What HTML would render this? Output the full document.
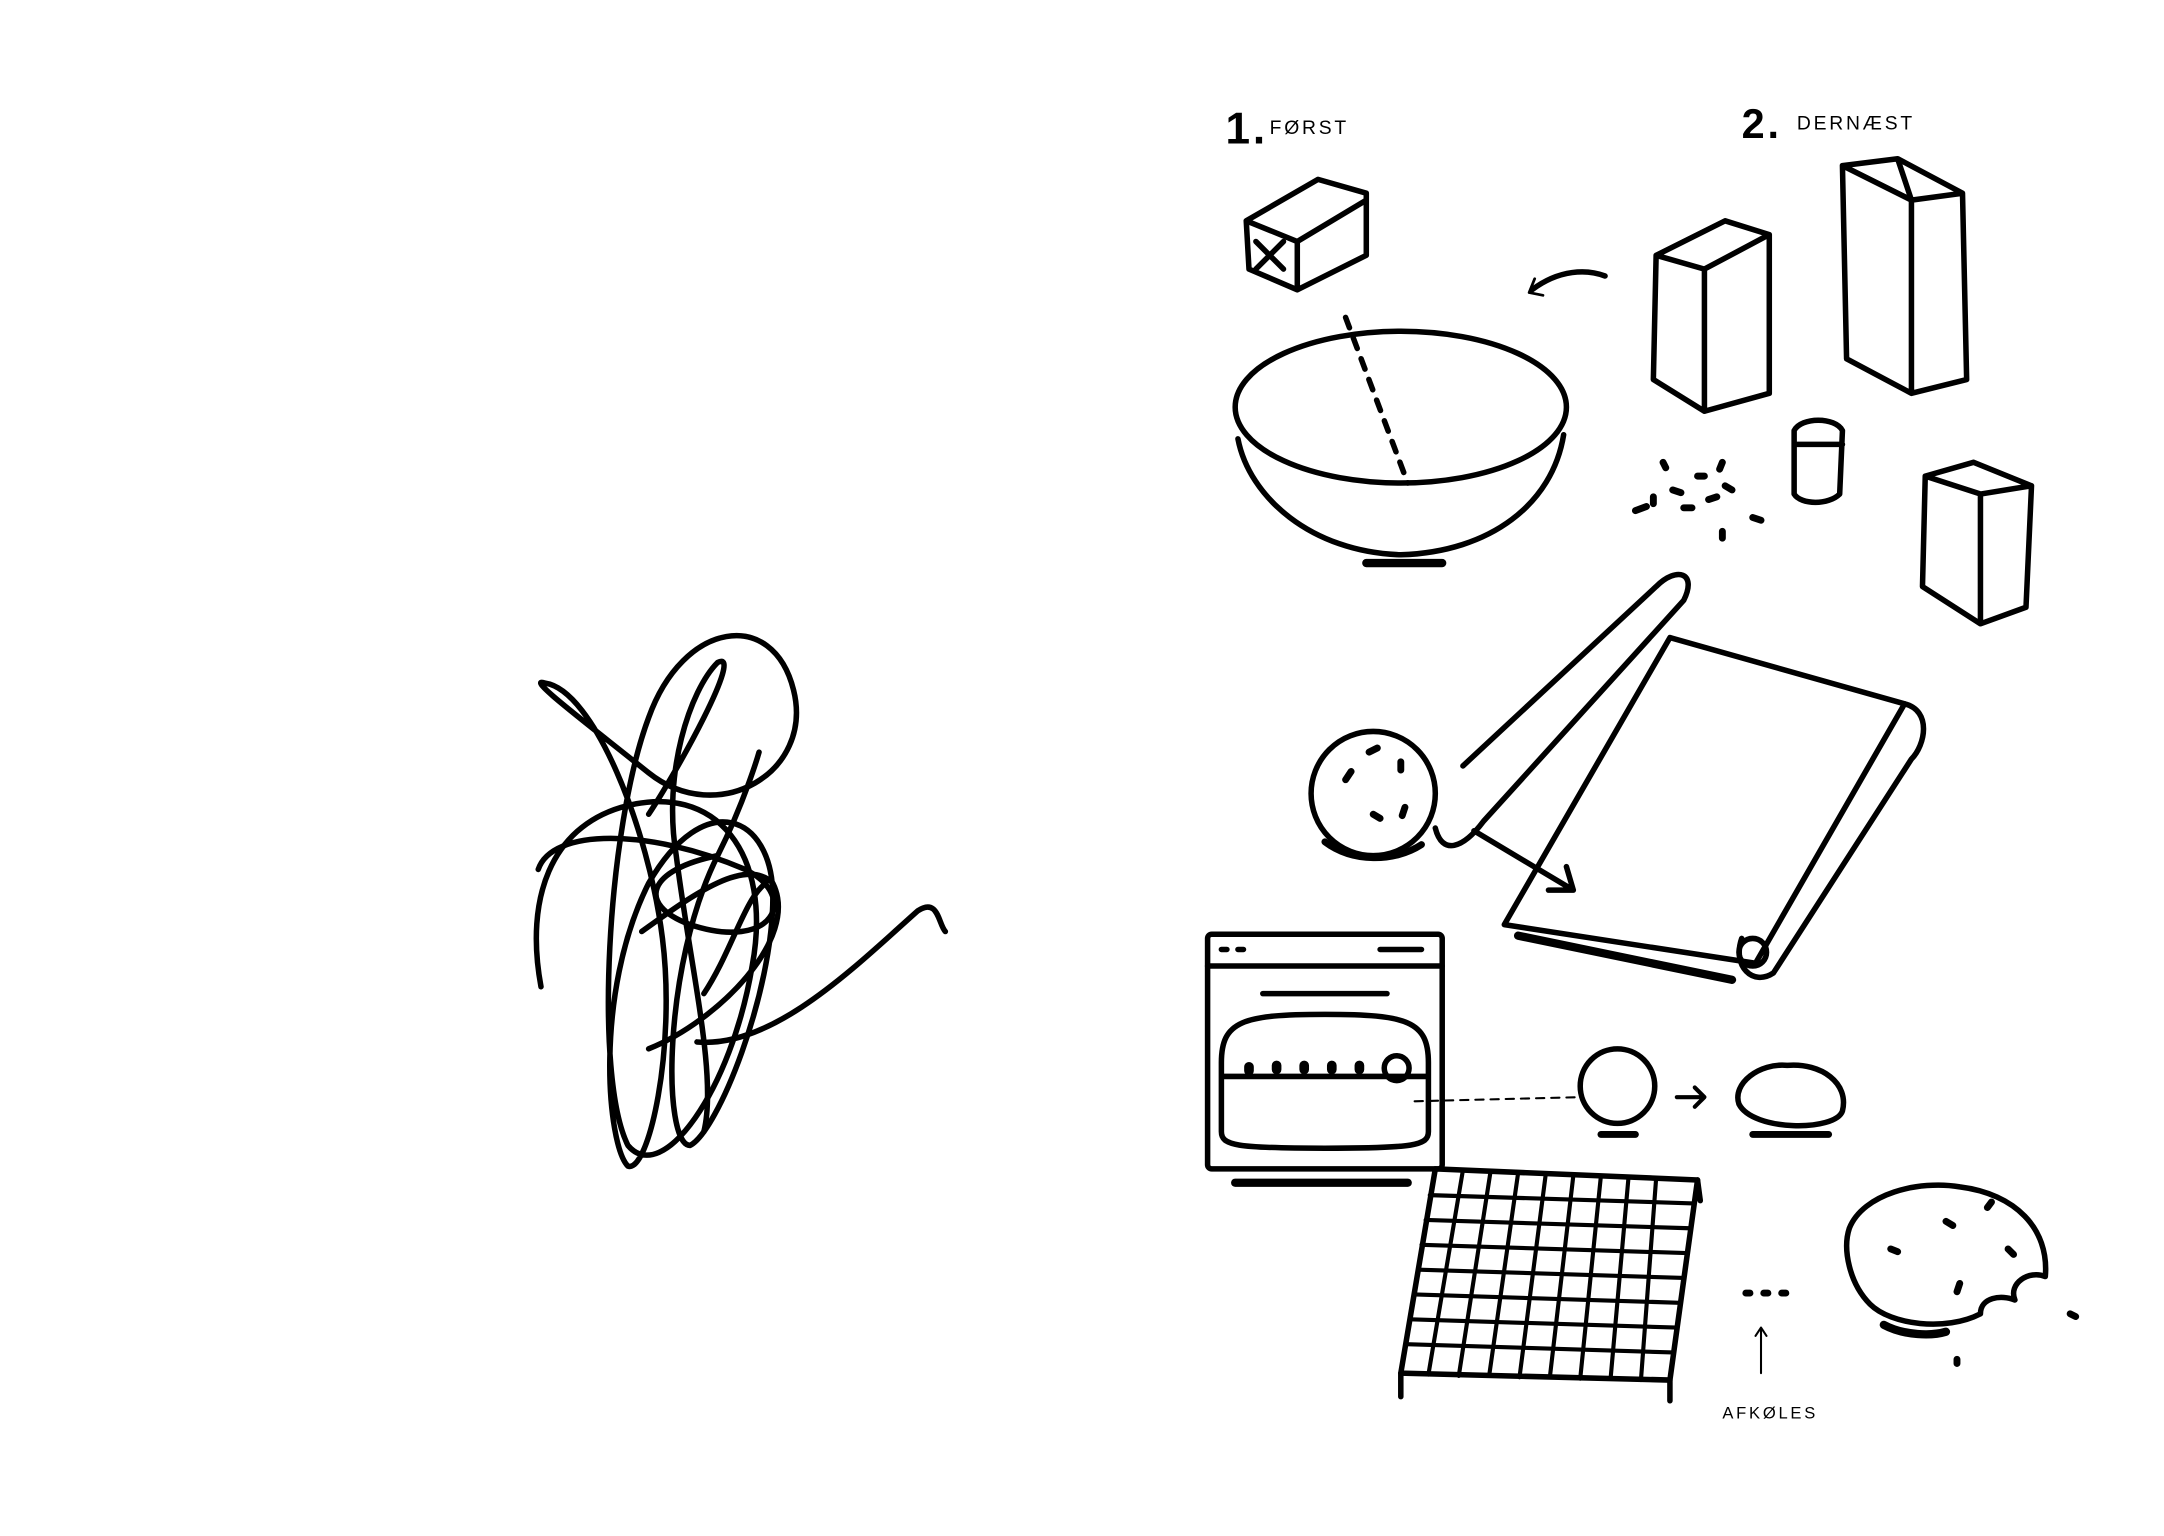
<!DOCTYPE html>
<html><head><meta charset="utf-8"><style>
html,body{margin:0;padding:0;background:#fff}
svg{display:block}
text{font-family:"Liberation Sans",sans-serif}
</style></head><body>
<svg width="2164" height="1536" viewBox="0 0 1568 1113" preserveAspectRatio="none" xmlns="http://www.w3.org/2000/svg">
<rect width="1568" height="1113" fill="#fff"/>
<g fill="none" stroke="#000" stroke-width="4" stroke-linecap="round" stroke-linejoin="round">
<!-- scribble -->
<path d="M392 715 C380 650 400 600 450 585 C520 565 560 620 545 700 C530 790 480 860 455 830 C430 780 440 600 470 520 C495 450 560 440 575 500 C590 560 520 600 470 560 C420 520 380 490 395 495 C430 500 470 600 480 680 C490 760 470 850 455 845 C440 830 430 720 470 640 C510 570 560 590 560 650 C560 720 520 820 500 830 C480 830 480 700 520 620 C540 580 550 545 550 545"/>
<path d="M390 630 C400 600 470 600 540 630 C580 650 560 690 500 670 C460 655 470 630 520 620"/>
<path d="M465 675 C500 650 540 620 560 640 C580 680 520 740 470 760"/>
<path d="M510 720 C530 690 540 650 555 640 M505 755 C560 760 620 700 665 660 C680 650 680 670 685 675"/>
<path d="M470 590 C490 560 540 470 520 480 C500 500 480 560 490 620 C500 700 520 780 510 820"/>
</g>
<g font-size="14" fill="#000" letter-spacing="2">
<text x="888" y="104" font-size="32" font-weight="bold">1.</text>
<text x="920" y="97">FØRST</text>
<text x="1262" y="100" font-size="30" font-weight="bold">2.</text>
<text x="1302" y="94">DERNÆST</text>
<text x="1248" y="1028" font-size="12">AFKØLES</text>
</g>
<g fill="none" stroke="#000" stroke-width="4" stroke-linecap="round" stroke-linejoin="round">
<!-- butter -->
<path d="M903 160 L955 130 L990 140 L990 185 L940 210 L905 195 Z M903 160 L940 175 L940 210 M940 175 L990 145"/>
<path d="M910 175 L930 195 M930 175 L910 195"/>
<path d="M975 230 L1020 350" stroke-dasharray="8 8"/>
<path d="M1110 210 C1130 195 1150 195 1163 200"/>
<path d="M1108 212 L1112 202 M1108 212 L1118 214" stroke-width="2"/>
<!-- bowl -->
<ellipse cx="1015" cy="295" rx="120" ry="55"/>
<path d="M897 318 C905 360 950 400 1015 402 C1080 400 1125 365 1133 315"/>
<path d="M990 408 L1045 408" stroke-width="6"/>
<!-- bags -->
<path d="M1200 185 L1250 160 L1282 170 L1282 285 L1235 298 L1198 275 Z M1200 185 L1235 195 L1235 298 M1235 195 L1282 170"/>
<path d="M1335 120 L1375 115 L1422 140 L1425 275 L1385 285 L1338 260 Z M1375 115 L1385 145 L1385 285 M1335 120 L1385 145 M1385 145 L1422 140"/>
<path d="M1395 345 L1430 335 L1472 352 L1468 440 L1435 452 L1393 425 Z M1395 345 L1435 358 L1435 452 M1435 358 L1472 352"/>
<path d="M1300 312 C1305 302 1330 302 1335 312 L1333 358 C1325 366 1305 366 1300 358 Z M1300 322 L1335 322"/>
<!-- sprinkles -->
<path d="M1205 335 l2 4 M1230 345 l5 0 M1248 335 l-2 5 M1212 355 l6 2 M1238 362 l6 -2 M1250 352 l5 3 M1185 370 l8 -3 M1220 368 l6 0 M1270 375 l6 2 M1248 385 l0 5 M1198 360 l0 5" stroke-width="5"/>
<!-- spoon and dough -->
<path d="M1060 555 L1200 425 C1215 410 1230 415 1220 435 L1075 595 C1060 615 1045 620 1040 600"/>
<circle cx="995" cy="575" r="45"/>
<path d="M960 610 C980 625 1010 625 1030 612" stroke-width="5"/>
<path d="M975 565 l4 -6 M992 545 l6 -3 M1015 552 l0 6 M995 590 l5 3 M1018 585 l-2 6" stroke-width="5"/>
<path d="M1068 602 L1140 645 M1140 645 L1122 645 M1140 645 L1135 628"/>
<!-- parchment roll -->
<path d="M1090 670 L1210 462 L1380 510 L1272 698 Z"/>
<path d="M1380 510 C1400 515 1395 540 1385 550 L1285 705 C1270 715 1255 700 1262 680"/>
<circle cx="1270" cy="690" r="10"/>
<path d="M1100 678 L1255 710" stroke-width="6"/>
<!-- oven -->
<rect x="875" y="677" width="170" height="170" rx="3"/>
<path d="M875 700 L1045 700 M885 688 l4 0 M897 688 l4 0 M1000 688 l30 0 M915 720 l90 0"/>
<path d="M885 770 C885 740 900 735 960 735 C1020 735 1035 740 1035 770 L1035 820 C1035 830 1025 832 960 832 C895 832 885 830 885 820 Z M885 780 L1035 780"/>
<circle cx="1012" cy="774" r="9"/>
<path d="M905 773 l0 3 M925 772 l0 3 M945 772 l0 3 M965 772 l0 3 M985 772 l0 3" stroke-width="7"/>
<path d="M895 857 L1020 857" stroke-width="6"/>
<path d="M1025 798 L1145 795" stroke-width="1.5" stroke-dasharray="6 5"/>
<circle cx="1172" cy="787" r="27"/>
<path d="M1160 822 l25 0" stroke-width="5"/>
<path d="M1215 795 L1235 795 M1235 795 L1228 788 M1235 795 L1228 802" stroke-width="3"/>
<path d="M1260 800 C1255 785 1275 770 1295 772 C1320 770 1340 785 1335 805 C1330 820 1270 820 1260 800 Z"/>
<path d="M1270 822 L1325 822" stroke-width="5"/>
<!-- rack -->
<path d="M1040 847 L1230 855 L1210 1000 L1015 995 Z"/>
<path d="M1060 848 L1035 996 M1080 849 L1057 997 M1100 850 L1079 997 M1120 851 L1101 998 M1140 852 L1123 998 M1160 852 L1145 999 M1180 853 L1167 999 M1200 854 L1189 1000" stroke-width="3"/>
<path d="M1036 866 L1227 872 M1033 884 L1224 890 M1030 902 L1222 908 M1028 920 L1220 926 M1025 938 L1217 944 M1022 956 L1215 962 M1019 974 L1212 980" stroke-width="3"/>
<path d="M1015 995 L1015 1012 M1210 1000 L1210 1015 M1230 855 L1232 870"/>
<path d="M1265 937 l3 0 M1278 937 l3 0 M1291 937 l3 0" stroke-width="5"/>
<path d="M1276 995 L1276 962 M1276 962 L1272 968 M1276 962 L1280 968" stroke-width="1.5"/>
<!-- bitten cookie -->
<path d="M1340 890 C1350 865 1390 855 1420 860 C1460 865 1485 890 1482 925 C1470 920 1455 930 1460 942 C1450 938 1435 940 1435 952 C1410 965 1370 960 1355 945 C1340 930 1335 905 1340 890 Z"/>
<path d="M1365 960 C1380 968 1400 968 1410 965" stroke-width="6"/>
<path d="M1410 885 l5 3 M1440 875 l3 -4 M1455 905 l4 4 M1420 930 l-2 6 M1370 905 l5 2 M1500 952 l4 2 M1418 985 l0 3" stroke-width="5"/>
</g>
</svg>
</body></html>
